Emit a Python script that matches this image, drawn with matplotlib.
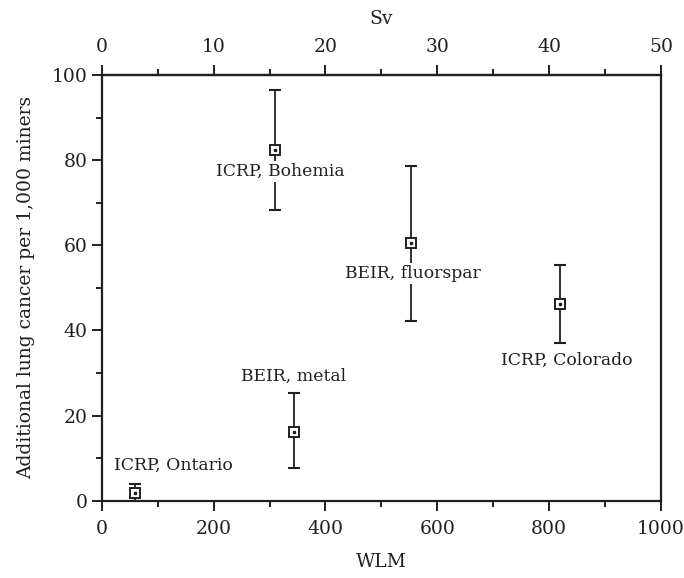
import numpy as np
import matplotlib
matplotlib.use("Agg")
import matplotlib.pyplot as plt
from matplotlib.ticker import MultipleLocator, FixedLocator

# data
sources = ["ICRP, Ontario", "ICRP, Bohemia", "BEIR, metal", "BEIR, fluorspar", "ICRP, Colorado"]
wlm = [60, 310, 343, 553, 820]
risk = [1.9, 82.4, 16.2, 60.5, 46.1]
err_low = [1.9, 14.2, 8.6, 18.3, 9.1]
err_high = [2.0, 14.0, 9.0, 18.1, 9.2]
label_x = [128, 319, 343, 556, 832]
label_y = [8.4, 77.3, 29.3, 53.3, 32.9]
sv_ticks = [0, 10, 20, 30, 40, 50]
sv_minor = [5, 15, 25, 35, 45]

ink = "#231f20"
plt.rcParams["font.family"] = ["DejaVu Serif"]

fig = plt.figure(figsize=(6.84, 5.78), dpi=100)
ax = fig.add_axes([0.1487, 0.1337, 0.8177, 0.7365])

ax.errorbar(wlm, risk, yerr=[err_low, err_high], fmt="none", ecolor=ink,
            elinewidth=1.3, capsize=4, capthick=1.5, zorder=2)
ax.plot(wlm, risk, linestyle="none", marker="s", markersize=6.5,
        markerfacecolor="white", markeredgecolor=ink, markeredgewidth=1.4, zorder=4)
ax.plot(wlm, risk, linestyle="none", marker="s", markersize=1.6,
        color=ink, zorder=5)

for name, lx, ly in zip(sources, label_x, label_y):
    ax.text(lx, ly, name, ha="center", va="center", fontsize=12.4, color=ink,
            zorder=3, bbox=dict(facecolor="white", edgecolor="none", pad=1.5))

ax.set_xlim(0, 1000)
ax.set_ylim(0, 100)
ax.xaxis.set_major_locator(MultipleLocator(200))
ax.xaxis.set_minor_locator(MultipleLocator(100))
ax.yaxis.set_major_locator(MultipleLocator(20))
ax.yaxis.set_minor_locator(MultipleLocator(10))

ax.tick_params(which="both", direction="out", colors=ink, labelsize=13.5,
               right=False, top=False, width=1.4)
ax.tick_params(axis="x", pad=7)
ax.tick_params(axis="y", pad=3)
ax.tick_params(which="major", length=7)
ax.tick_params(which="minor", length=4.5)

for side in ax.spines.values():
    side.set_linewidth(1.6)
    side.set_color(ink)

ax.set_xlabel("WLM", fontsize=13.5, color=ink, labelpad=11)
ax.set_ylabel("Additional lung cancer per 1,000 miners", fontsize=13.5,
              color=ink, labelpad=12)

sv = ax.secondary_xaxis("top", functions=(lambda x: x / 20.0, lambda x: x * 20.0))
sv.xaxis.set_major_locator(FixedLocator(sv_ticks))
sv.xaxis.set_minor_locator(FixedLocator(sv_minor))
sv.tick_params(which="both", direction="out", colors=ink, labelsize=13.5,
               width=1.4, pad=7)
sv.tick_params(which="major", length=7)
sv.tick_params(which="minor", length=4.5)
sv.spines["top"].set_linewidth(1.6)
sv.spines["top"].set_color(ink)
sv.set_xlabel("Sv", fontsize=13.5, color=ink, labelpad=10)

fig.savefig("out.png", dpi=100)
